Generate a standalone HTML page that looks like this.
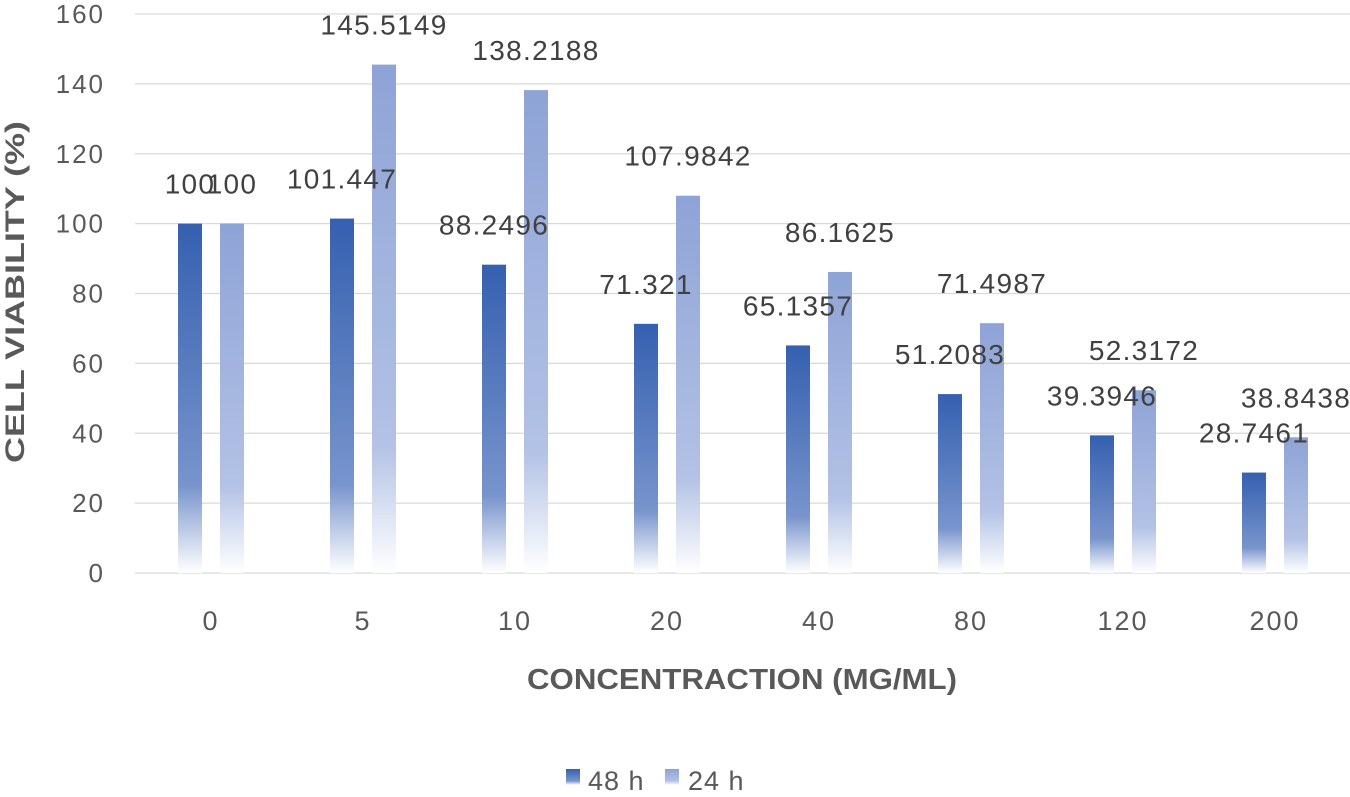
<!DOCTYPE html>
<html><head><meta charset="utf-8"><style>
body{margin:0;background:#fff;width:1350px;height:792px;overflow:hidden;font-family:"Liberation Sans",sans-serif}
</style></head><body>
<svg id="chart" width="1350" height="792" xmlns="http://www.w3.org/2000/svg">
<defs>
<linearGradient id="g48" x1="0" y1="0" x2="0" y2="1">
<stop offset="0" stop-color="#3560b0"/><stop offset="0.75" stop-color="#7894cc"/><stop offset="1" stop-color="#ffffff"/>
</linearGradient>
<linearGradient id="g24" x1="0" y1="0" x2="0" y2="1">
<stop offset="0" stop-color="#8ea3d6"/><stop offset="0.75" stop-color="#b3c2e5"/><stop offset="1" stop-color="#ffffff"/>
</linearGradient>
</defs>
<g id="grid"></g><g id="bars"></g><g id="labels"></g>
<text transform="translate(24,292) rotate(-90)" text-anchor="middle" font-size="27" font-weight="bold" fill="#595959" textLength="342" lengthAdjust="spacingAndGlyphs">CELL VIABILITY (%)</text>
<text x="742" y="689" text-anchor="middle" font-size="29" font-weight="bold" fill="#595959" textLength="430" lengthAdjust="spacingAndGlyphs">CONCENTRACTION (MG/ML)</text>
<g>
<rect x="566" y="769" width="14" height="16" fill="url(#g48)"/>
<text x="588" y="790" font-size="27" letter-spacing="1" fill="#595959">48 h</text>
<rect x="665" y="769" width="14" height="16" fill="url(#g24)"/>
<text x="688" y="790" font-size="27" letter-spacing="1" fill="#595959">24 h</text>
</g>
</svg>
<script>
const categories=["0","5","10","20","40","80","120","200"];
const values48=[100,101.447,88.2496,71.321,65.1357,51.2083,39.3946,28.7461];
const values24=[100,145.5149,138.2188,107.9842,86.1625,71.4987,52.3172,38.8438];
const labels48=["100","101.447","88.2496","71.321","65.1357","51.2083","39.3946","28.7461"];
const labels24=["100","145.5149","138.2188","107.9842","86.1625","71.4987","52.3172","38.8438"];
const yTicks=[0,20,40,60,80,100,120,140,160];
const NS="http://www.w3.org/2000/svg";
const y=v=>573-v*(559/160);
const x=i=>210+i*152;
function mk(tag,attrs,parent){const e=document.createElementNS(NS,tag);for(const k in attrs)e.setAttribute(k,attrs[k]);parent.appendChild(e);return e;}
const grid=document.getElementById('grid'),bars=document.getElementById('bars'),labs=document.getElementById('labels');
yTicks.forEach(t=>{
 const l=mk('line',{x1:135,x2:1350,y1:y(t),y2:y(t),stroke:'#d9d9d9','stroke-width':1.3},grid);
 
 
 const tx=mk('text',{x:105,y:y(t)+9,'text-anchor':'end','font-size':26,'letter-spacing':2,fill:'#595959'},grid);
 tx.textContent=t;
 
 
});
categories.forEach((c,i)=>{
 const tx=mk('text',{x:x(i)+1,y:630,'text-anchor':'middle','font-size':27,'letter-spacing':2,fill:'#595959'},grid);
 tx.textContent=c;
 
 
 [[values48,labels48,-32,'url(#g48)','48h'],[values24,labels24,10,'url(#g24)','24h']].forEach(([vals,lb,off,fill,s])=>{
  const v=vals[i];
  const r=mk('rect',{x:x(i)+off,y:y(v),width:24,height:573-y(v),fill:fill},bars);
  
  
  const t=mk('text',{x:x(i)+off+12,y:y(v)-30,'text-anchor':'middle','font-size':28,'letter-spacing':1.3,fill:'#404040'},labs);
  t.textContent=lb[i];
  
  
 });
});
</script>
</body></html>
